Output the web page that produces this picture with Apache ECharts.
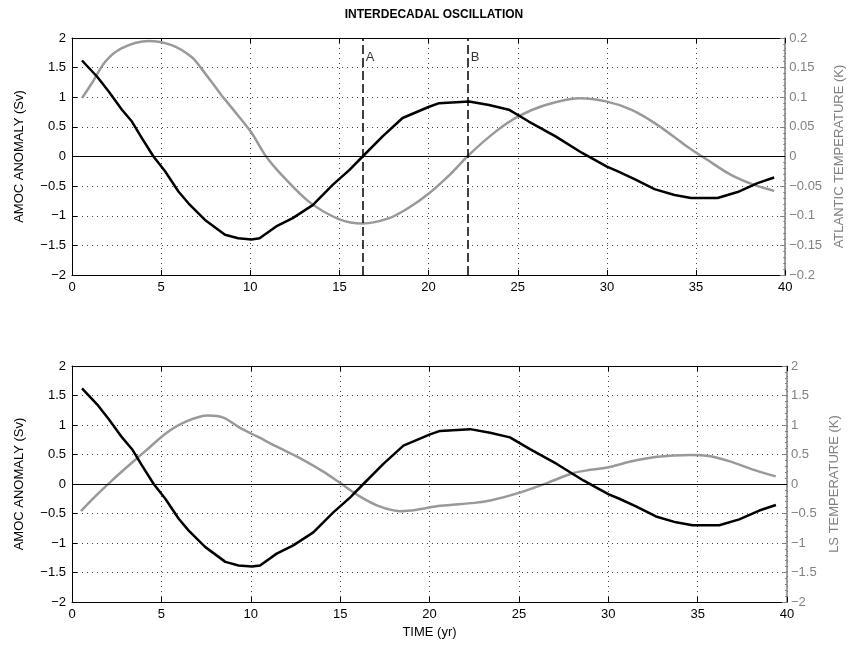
<!DOCTYPE html>
<html>
<head>
<meta charset="utf-8">
<title>Interdecadal oscillation</title>
<script src="https://cdn.jsdelivr.net/npm/echarts@6/dist/echarts.min.js"></script>
<style>
  html, body { margin: 0; padding: 0; background: #fff; }
  #chart { width: 854px; height: 651px; }
</style>
</head>
<body>
<div id="chart"></div>
<script>
// AMOC anomaly (Sv), same curve in both panels
var amocTime = [0.56, 1.40, 2.05, 2.80, 3.36, 3.92, 4.57, 5.22, 5.97, 6.53, 7.46, 8.58, 9.32, 10.07, 10.52, 11.45, 12.38, 13.5, 14.62, 15.55, 16.3, 17.42, 18.54, 20.03, 20.59, 22.27, 23.39, 24.5, 25.62, 27.12, 28.61, 30.0, 30.62, 31.55, 32.67, 33.79, 34.72, 36.21, 37.33, 38.45, 39.38];
var amocValue = [1.62, 1.35, 1.10, 0.79, 0.59, 0.31, 0.0, -0.25, -0.59, -0.79, -1.07, -1.32, -1.38, -1.40, -1.38, -1.18, -1.04, -0.82, -0.48, -0.23, 0.0, 0.34, 0.65, 0.84, 0.90, 0.93, 0.87, 0.79, 0.59, 0.34, 0.06, -0.17, -0.25, -0.38, -0.55, -0.65, -0.70, -0.70, -0.60, -0.45, -0.355];

// Atlantic temperature (K), top panel
var atlTime = [0.56, 1.12, 1.86, 2.80, 4.29, 5.59, 6.71, 7.22, 8.32, 9.02, 10.05, 10.89, 11.82, 13.32, 15.0, 16.3, 17.79, 18.91, 20.03, 21.15, 22.27, 23.76, 25.06, 26.56, 28.42, 29.95, 31.36, 32.85, 34.35, 35.65, 36.96, 38.26, 39.38];
var atlValue = [0.0985, 0.124, 0.160, 0.183, 0.195, 0.188, 0.168, 0.150, 0.106, 0.080, 0.041, 0.0, -0.033, -0.077, -0.106, -0.113, -0.104, -0.086, -0.062, -0.032, 0.003, 0.042, 0.068, 0.087, 0.0985, 0.093, 0.079, 0.053, 0.020, -0.006, -0.031, -0.048, -0.058];

// LS temperature (K), bottom panel
var lsTime = [0.5, 1.3, 2.2, 3.35, 4.3, 5.3, 6.4, 7.6, 8.5, 9.4, 10.33, 11.4, 12.75, 14.06, 14.99, 16.1, 17.2, 18.35, 19.3, 20.6, 22.5, 23.4, 25.0, 26.6, 28.1, 29.0, 29.95, 31.25, 32.74, 34.6, 35.7, 36.85, 38.15, 39.37];
var lsValue = [-0.46, -0.21, 0.05, 0.36, 0.61, 0.87, 1.06, 1.16, 1.12, 0.95, 0.81, 0.64, 0.44, 0.21, 0.02, -0.21, -0.38, -0.46, -0.435, -0.37, -0.32, -0.28, -0.15, 0.02, 0.19, 0.24, 0.28, 0.38, 0.46, 0.49, 0.47, 0.38, 0.24, 0.13];

// phase markers
var markTime = [16.3, 22.2];
var markName = ['A', 'B'];
var markLabelY = 1.68;

var FONT = 'Liberation Sans, Arial, Helvetica, sans-serif';
var GRAY_AXIS = '#808080';
var GRAY_LINE = '#999999';

function pairs(xs, ys) {
  var out = [];
  for (var i = 0; i < xs.length; i++) out.push([xs[i], ys[i]]);
  return out;
}
function fmt(v) {
  var s = String(+v.toFixed(2));
  return s.replace('-', '\u2212');
}

function xAxisFor(gi, withName) {
  return [{
    type: 'value', gridIndex: gi, min: 0, max: 40, interval: 5,
    position: 'bottom',
    name: withName ? 'TIME (yr)' : '',
    nameLocation: 'middle', nameGap: 24,
    nameTextStyle: { fontFamily: FONT, fontSize: 13, color: '#000' },
    axisLine: { onZero: false, lineStyle: { color: '#000', width: 1 } },
    axisTick: { inside: true, length: 5, lineStyle: { color: '#000' } },
    axisLabel: { fontFamily: FONT, fontSize: 13, color: '#000', margin: 6, formatter: fmt },
    splitLine: { show: true, lineStyle: { color: '#444', type: [1, 4], width: 1 } }
  }, {
    type: 'value', gridIndex: gi, min: 0, max: 40, interval: 5,
    position: 'top',
    axisLine: { onZero: false, lineStyle: { color: '#000', width: 1 } },
    axisTick: { inside: true, length: 5, lineStyle: { color: '#000' } },
    axisLabel: { show: false },
    splitLine: { show: false }
  }];
}

function leftY(gi) {
  return {
    type: 'value', gridIndex: gi, min: -2, max: 2, interval: 0.5,
    position: 'left',
    name: 'AMOC ANOMALY (Sv)',
    nameLocation: 'middle', nameGap: 46,
    nameTextStyle: { fontFamily: FONT, fontSize: 13, color: '#000' },
    axisLine: { show: true, onZero: false, lineStyle: { color: '#000', width: 1 } },
    axisTick: { show: true, inside: true, length: 5, lineStyle: { color: '#000' } },
    axisLabel: { fontFamily: FONT, fontSize: 13, color: '#000', margin: 6, formatter: fmt },
    splitLine: { show: true, lineStyle: { color: '#444', type: [1, 4], width: 1 } }
  };
}

function rightY(gi, name, lim, step) {
  return {
    type: 'value', gridIndex: gi, min: -lim, max: lim, interval: step,
    position: 'right',
    name: name,
    nameLocation: 'middle', nameGap: 36,
    nameRotate: 90,
    nameTextStyle: { fontFamily: FONT, fontSize: 13, color: GRAY_AXIS },
    axisLine: { show: true, onZero: false, lineStyle: { color: GRAY_AXIS, width: 1.5 } },
    axisTick: { show: true, inside: true, length: 5, lineStyle: { color: GRAY_AXIS } },
    minorTick: { show: true, splitNumber: 5, length: 2, lineStyle: { color: GRAY_AXIS } },
    axisLabel: { fontFamily: FONT, fontSize: 13, color: GRAY_AXIS, margin: 4, formatter: fmt },
    splitLine: { show: false }
  };
}

function zeroLine() {
  return {
    silent: true, symbol: ['none', 'none'], animation: false,
    label: { show: false },
    lineStyle: { color: '#000', type: 'solid', width: 1 },
    data: [{ yAxis: 0 }]
  };
}

var markerLines = markTime.map(function (t) { return { xAxis: t }; });
var markerLabels = markTime.map(function (t, i) { return { value: [t, markLabelY], name: markName[i] }; });

var chart = echarts.init(document.getElementById('chart'), null, { renderer: 'canvas' });
chart.setOption({
  backgroundColor: '#fff',
  animation: false,
  title: {
    text: 'INTERDECADAL OSCILLATION',
    left: 429, top: 4, textAlign: 'center',
    textStyle: { fontFamily: FONT, fontSize: 12, fontWeight: 'bold', color: '#000' }
  },
  grid: [
    { left: 72, right: 67, top: 38, height: 237 },
    { left: 72, right: 67, top: 366, height: 236 }
  ],
  xAxis: xAxisFor(0, false).concat(xAxisFor(1, true)),
  yAxis: [
    leftY(0),
    rightY(0, 'ATLANTIC TEMPERATURE (K)', 0.2, 0.05),
    leftY(1),
    rightY(1, 'LS TEMPERATURE (K)', 2, 0.5)
  ],
  series: [
    {
      name: 'Atlantic T', type: 'line', xAxisIndex: 0, yAxisIndex: 1,
      data: pairs(atlTime, atlValue), showSymbol: false, smooth: 0.3,
      lineStyle: { color: GRAY_LINE, width: 2.5 }, z: 2
    },
    {
      name: 'AMOC top', type: 'line', xAxisIndex: 0, yAxisIndex: 0,
      data: pairs(amocTime, amocValue), showSymbol: false, smooth: false,
      lineStyle: { color: '#000', width: 2.5, join: 'round' }, z: 3,
      markLine: {
        silent: true, symbol: ['none', 'none'], animation: false,
        label: { show: false },
        lineStyle: { color: '#000', type: [9, 4], width: 1.5 },
        data: markerLines.concat([{ yAxis: 0, lineStyle: { type: 'solid', width: 1 } }])
      }
    },
    {
      name: 'Markers', type: 'scatter', xAxisIndex: 0, yAxisIndex: 0,
      data: markerLabels, symbolSize: 0, silent: true,
      label: {
        show: true, position: 'right', distance: 3,
        formatter: function (p) { return p.name; },
        fontFamily: FONT, fontSize: 13, color: '#000'
      }
    },
    {
      name: 'LS T', type: 'line', xAxisIndex: 2, yAxisIndex: 3,
      data: pairs(lsTime, lsValue), showSymbol: false, smooth: 0.3,
      lineStyle: { color: GRAY_LINE, width: 2.5 }, z: 2
    },
    {
      name: 'AMOC bottom', type: 'line', xAxisIndex: 2, yAxisIndex: 2,
      data: pairs(amocTime, amocValue), showSymbol: false, smooth: false,
      lineStyle: { color: '#000', width: 2.5, join: 'round' }, z: 3,
      markLine: zeroLine()
    }
  ]
});
</script>
</body>
</html>
